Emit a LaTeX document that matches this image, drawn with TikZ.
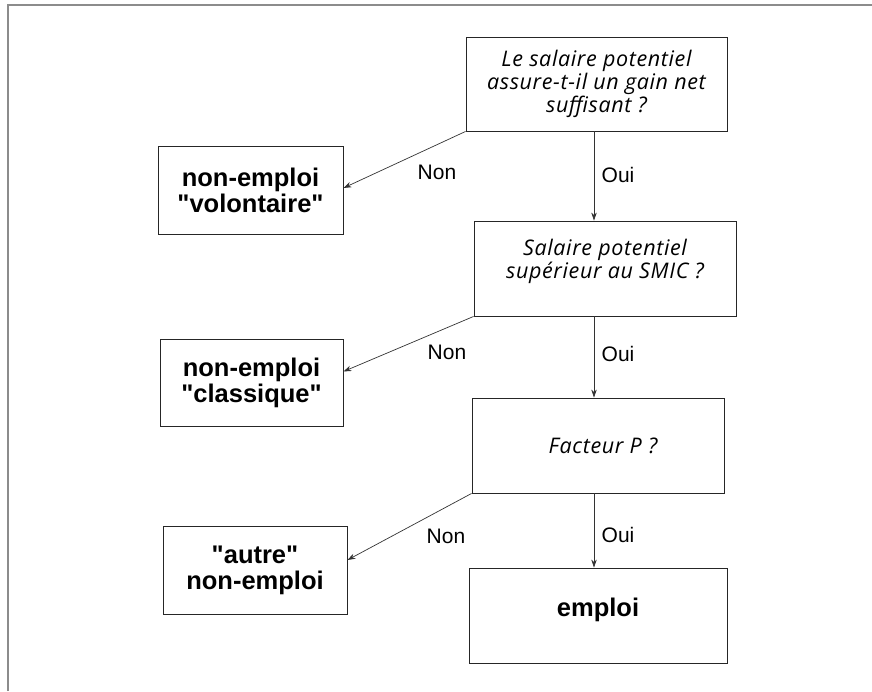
\documentclass[tikz,border=0pt]{standalone}
\usepackage{fontspec}
\setmainfont{Liberation Sans}[Ligatures=TeXOff]
\newfontfamily\qfont{Open Sans}[LetterSpace=3]
\usetikzlibrary{arrows.meta}
\newcommand{\dq}{{\char34}}
\tikzset{
  qbox/.style={draw=black!85, line width=0.9pt, align=center, inner sep=0pt,
    font=\qfont\itshape\fontsize{21.5}{23}\selectfont},
  abox/.style={draw=black!85, line width=0.9pt, align=center, inner sep=0pt,
    font=\bfseries\fontsize{25.5}{26}\selectfont},
  conn/.style={draw=black!80, line width=0.7pt, -{Stealth[length=8pt,width=5.5pt]}},
  lbl/.style={font=\fontsize{21}{22}\selectfont, inner sep=0pt},
  frame/.style={draw=black!45, line width=1.8pt}
}
\begin{document}
\begin{tikzpicture}[x=1pt,y=-1pt]
\useasboundingbox (0,0) rectangle (872,691);
\draw[frame] (8,691) -- (8,5) -- (872,5);

\node[qbox, minimum width=261pt, minimum height=94pt] (q1) at (596.5,84)
  {Le salaire potentiel\\assure-t-il un gain net\\suffisant ?};
\node[qbox, minimum width=262pt, minimum height=95pt] (q2) at (605,268.5)
  {Salaire potentiel\\supérieur au SMIC ?\\[-4pt]};
\node[qbox, minimum width=252pt, minimum height=95pt] (q3) at (598,445.5)
  {\hspace*{10pt}Facteur P ?};
\node[abox, minimum width=258pt, minimum height=95pt] (emp) at (598,615.5)
  {emploi\\[-10pt]};
\node[abox, minimum width=185pt, minimum height=88pt] (vol) at (250.5,190)
  {non-emploi\\\dq volontaire\dq};
\node[abox, minimum width=183pt, minimum height=87pt] (cla) at (251.5,382.5)
  {non-emploi\\\dq classique\dq};
\node[abox, minimum width=184pt, minimum height=88pt] (aut) at (255,570)
  {\dq autre\dq\\non-emploi};

\draw[conn] ([xshift=-2.5pt]q1.south) -- ([xshift=-2.5pt]q1.south |- q2.north);
\draw[conn] ([xshift=-11pt]q2.south) -- ([xshift=-11pt]q2.south |- q3.north);
\draw[conn] ([xshift=-4pt]q3.south) -- ([xshift=-4pt]q3.south |- emp.north);

\draw[conn] (q1.south west) -- ([yshift=2pt]vol.east);
\draw[conn] (q2.south west) -- ([yshift=11pt]cla.east);
\draw[conn] (q3.south west) -- ([yshift=10pt]aut.east);

\node[lbl] (n1) at (437,172) {Non};
\node[lbl] (o1) at (618,175) {Oui};
\node[lbl] (n2) at (447,352) {Non};
\node[lbl] (o2) at (618,354) {Oui};
\node[lbl] (n3) at (446,536) {Non};
\node[lbl] (o3) at (618,535) {Oui};
\end{tikzpicture}
\end{document}
